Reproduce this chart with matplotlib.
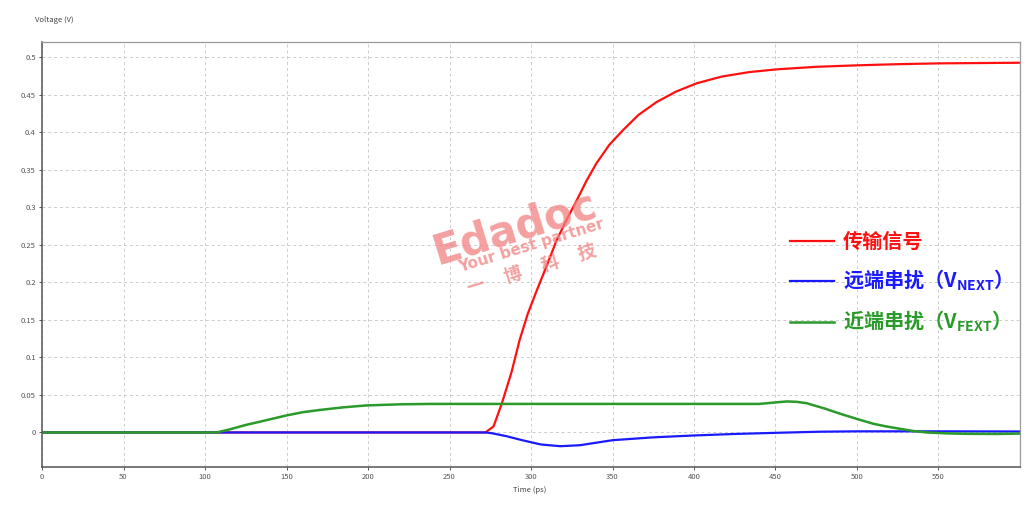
"""
    Crosstalk waveforms: transmitted signal, NEXT and FEXT voltages vs time.
"""

import numpy as np
import matplotlib
matplotlib.use("Agg")
import matplotlib.pyplot as plt

plt.rcParams['font.family'] = ['Noto Sans CJK SC', 'DejaVu Sans']
plt.rcParams['mathtext.fontset'] = 'dejavusans'

# transmitted signal (red)
signal_t = [0, 272, 277, 282, 288, 293, 298, 303.5, 310, 315.7, 322, 328, 334, 340, 348, 356.6,
            366, 377, 389, 401.6, 417, 434, 450.7, 475, 500.6, 525, 551, 575, 600]
signal_v = [0, 0, 0.008, 0.038, 0.08, 0.123, 0.158, 0.189, 0.224, 0.256, 0.284, 0.309, 0.335, 0.358, 0.383, 0.403,
            0.423, 0.440, 0.454, 0.465, 0.474, 0.480, 0.4836, 0.487, 0.489, 0.4905, 0.4916, 0.492, 0.4924]

# crosstalk at the far end label (blue)
next_t = [0, 272, 276, 285, 294, 306, 318, 330, 350, 375, 400, 425, 450, 477, 500, 550, 600]
next_v = [0, 0, -0.001, -0.005, -0.010, -0.016, -0.0183, -0.017, -0.0103, -0.0065, -0.004, -0.002,
          -0.0005, 0.001, 0.0015, 0.0015, 0.0013]

# crosstalk at the near end label (green)
fext_t = [0, 107, 115, 125, 135, 150, 160, 170.5, 185, 199, 220, 238, 300, 440, 450, 457, 463, 469,
          480, 489.6, 500, 510, 518, 526, 535, 542.8, 555, 567, 585, 600]
fext_v = [0, 0, 0.004, 0.010, 0.015, 0.0227, 0.027, 0.030, 0.0335, 0.036, 0.0375, 0.038, 0.038, 0.038,
          0.040, 0.0413, 0.0408, 0.039, 0.032, 0.025, 0.018, 0.0116, 0.008, 0.005, 0.0018, 0,
          -0.0012, -0.0018, -0.002, -0.0015]

labels = ["传输信号", "远端串扰（V$_\\mathregular{NEXT}$）", "近端串扰（V$_\\mathregular{FEXT}$）"]
x_ticks = np.arange(0, 551, 50)
y_ticks = np.arange(0, 0.501, 0.05)

fig = plt.figure(figsize=(10.33, 5.15), dpi=100)
ax = fig.add_axes([0.0407, 0.0932, 0.9467, 0.8252])

# watermark
wm_color = "#f28080"
ax.text(0.483, 0.562, "Edadoc", transform=ax.transAxes, fontsize=30, fontweight="bold", color=wm_color,
        alpha=0.75, rotation=17, ha="center", va="center", family="DejaVu Sans")
ax.text(0.500, 0.520, "Your best partner", transform=ax.transAxes, fontsize=11, fontweight="bold",
        color=wm_color, alpha=0.75, rotation=17, ha="center", va="center", family="DejaVu Sans")
ax.text(0.501, 0.466, "一     博     科     技", transform=ax.transAxes, fontsize=13, fontweight="bold",
        color=wm_color, alpha=0.75, rotation=17, ha="center", va="center")

l1, = ax.plot(signal_t, signal_v, color="#ff1010", lw=1.6)
l2, = ax.plot(next_t, next_v, color="#1a1aff", lw=1.6)
l3, = ax.plot(fext_t, fext_v, color="#2a9a2a", lw=1.8)

ax.set_xlim(0, 600)
ax.set_ylim(-0.046, 0.52)
ax.set_xticks(x_ticks)
ax.set_yticks(y_ticks)
ax.set_xticklabels([f"{t:g}" for t in x_ticks])
ax.set_yticklabels(["0"] + [f"{v:g}" for v in np.round(y_ticks[1:], 2)])
ax.tick_params(labelsize=5.5, labelcolor="#555555", length=2.5, color="#555555", width=0.7, pad=2)
ax.grid(True, ls=(0, (3, 3)), color="#cccccc", lw=0.7)

for side in ["left", "bottom"]:
    ax.spines[side].set_color("#555555")
    ax.spines[side].set_linewidth(1.1)
for side in ["top", "right"]:
    ax.spines[side].set_color("#999999")
    ax.spines[side].set_linewidth(0.9)

fig.text(0.034, 0.957, "Voltage (V)", fontsize=5.5, color="#444444")
fig.text(0.513, 0.045, "Time (ps)", fontsize=5.5, color="#444444", ha="center")

leg = ax.legend([l1, l2, l3], labels, loc="center left", bbox_to_anchor=(0.765, 0.434), frameon=False,
                borderaxespad=0, borderpad=0, handlelength=2.2, handletextpad=0.4, labelspacing=0.8,
                prop={"size": 14.5, "weight": "bold"}, labelcolor="linecolor")

fig.savefig("out.png", dpi=100)
